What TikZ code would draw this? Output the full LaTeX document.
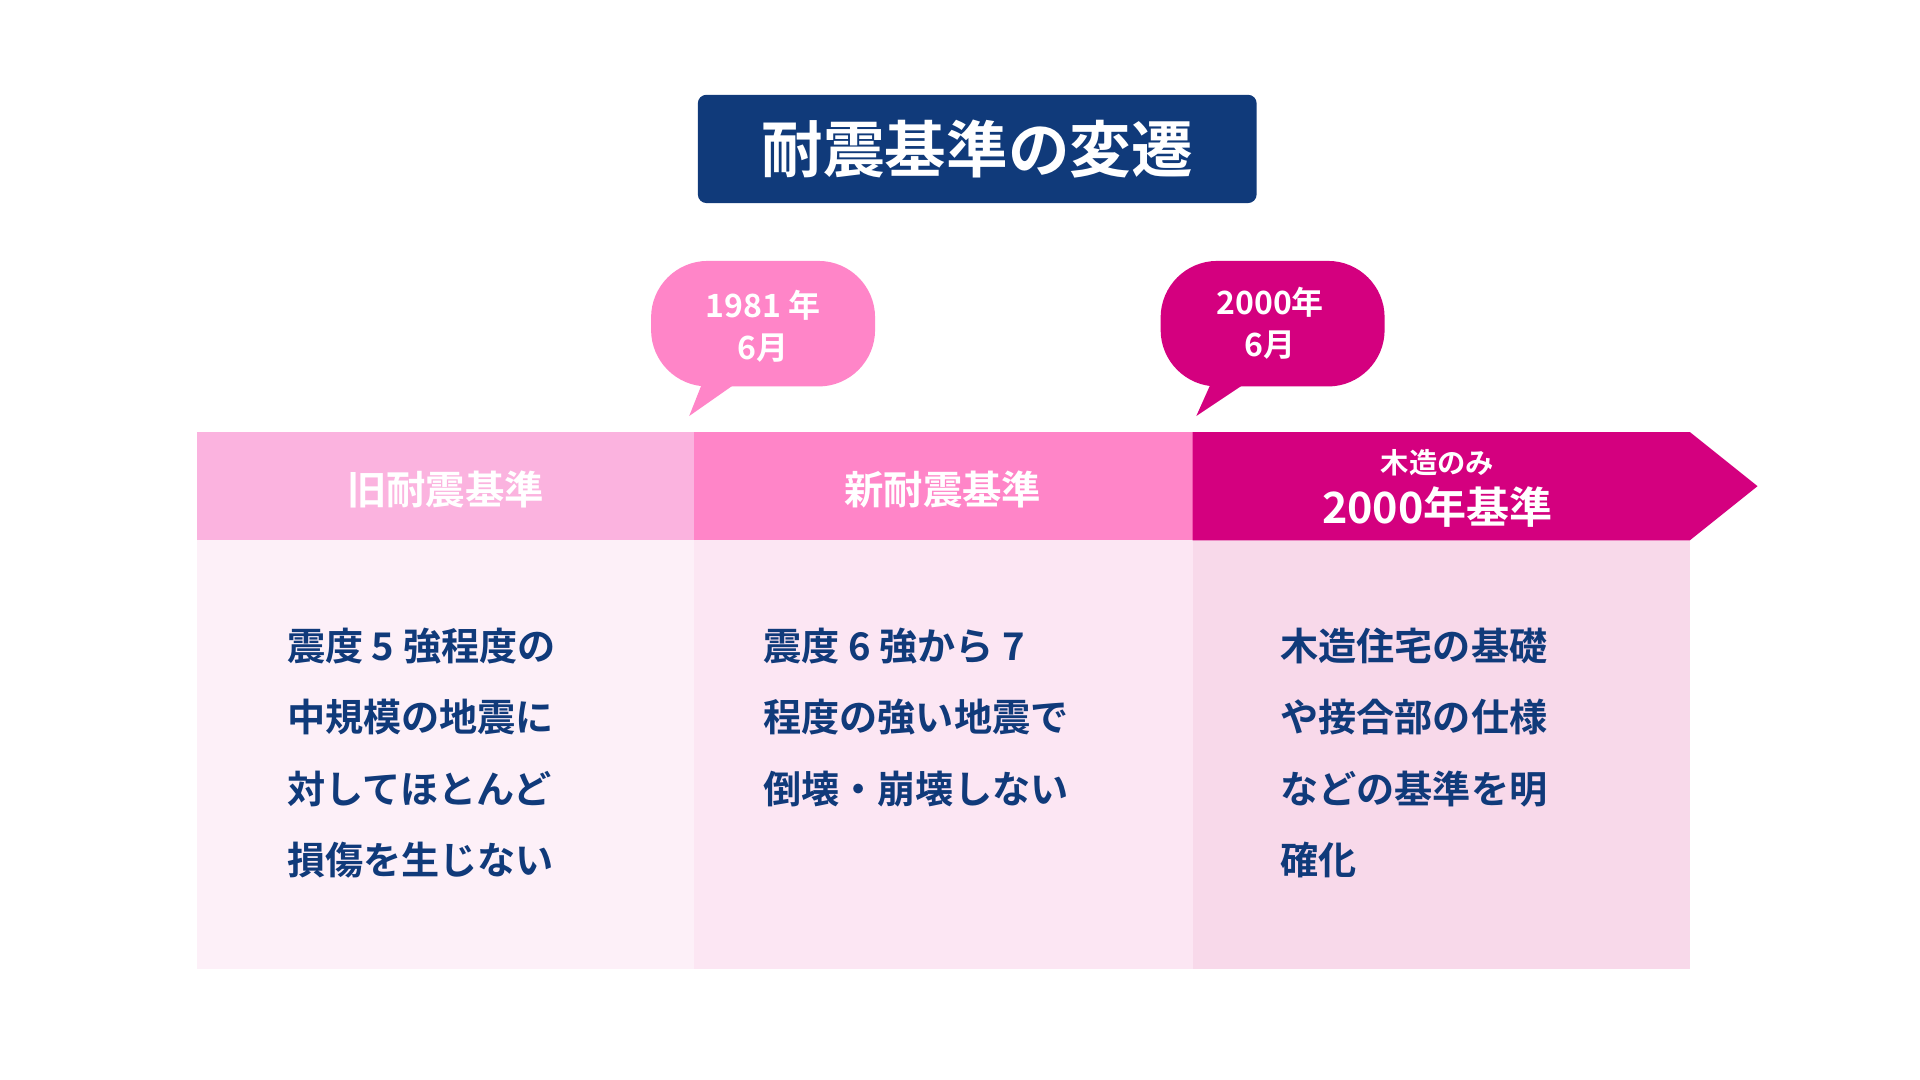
\documentclass[tikz,border=0pt]{standalone}
\usepackage{fontspec}
\setmainfont{Noto Sans CJK JP}[BoldFont={* Bold}]
\definecolor{navy}{HTML}{103A7A}
\definecolor{pA}{HTML}{FBB3DF}
\definecolor{pB}{HTML}{FF85C8}
\definecolor{pC}{HTML}{D4007F}
\definecolor{bA}{HTML}{FDF0F8}
\definecolor{bB}{HTML}{FCE6F3}
\definecolor{bC}{HTML}{F8D9EA}
\tikzset{
 hdr/.style={text=white,font=\bfseries\fontsize{32}{36}\selectfont},
 body/.style={text=navy,font=\bfseries\fontsize{31}{58}\selectfont,align=left,anchor=north west,inner sep=0pt},
 bub/.style={text=white,font=\bfseries\fontsize{26}{34}\selectfont,align=center}
}
\begin{document}
\begin{tikzpicture}[x=1pt,y=-1pt]
\useasboundingbox[fill=white] (0,0) rectangle (1560,877.5);
% title
\node[fill=navy,rounded corners=7pt,minimum width=454pt,minimum height=88pt,text=white,font=\bfseries\fontsize{50}{56}\selectfont] (title) at (794,121) {耐震基準の変遷};
% bodies
\fill[bA] (160,439) rectangle (564,787);
\fill[bB] (564,439) rectangle (969,787);
\fill[bC] (969,439) rectangle (1373,787);
% header
\fill[pA] (160,351) rectangle (564,439);
\fill[pB] (564,351) rectangle (969,439);
\fill[pC] (969,351) -- (1373,351) -- (1428,395) -- (1373,439) -- (969,439) -- cycle;
\node[hdr] (h1) at (362,398) {旧耐震基準};
\node[hdr] (h2) at (766,398) {新耐震基準};
\node[text=white,font=\bfseries\fontsize{23}{26}\selectfont] (h3a) at (1168,376) {木造のみ};
\node[text=white,font=\bfseries\fontsize{35}{38}\selectfont] (h3b) at (1168,412) {2000年基準};
% bubbles
\fill[pB] (575,300) -- (560,338) -- (600,310) -- cycle;
\fill[pB,rounded corners=46pt] (529,212) rectangle (711,314);
\node[bub] (b1) at (620,265) {1981 年\\6月};
\fill[pC] (989,300) -- (972,338) -- (1014,310) -- cycle;
\fill[pC,rounded corners=46pt] (943,212) rectangle (1125,314);
\node[bub] (b2) at (1032,263) {2000年\\6月};
% body text
\node[body] (t1) at (233,510) {震度 5 強程度の\\中規模の地震に\\対してほとんど\\損傷を生じない};
\node[body] (t2) at (620,510) {震度 6 強から 7\\程度の強い地震で\\倒壊・崩壊しない};
\node[body] (t3) at (1040,510) {木造住宅の基礎\\や接合部の仕様\\などの基準を明\\確化};
\end{tikzpicture}
\end{document}
